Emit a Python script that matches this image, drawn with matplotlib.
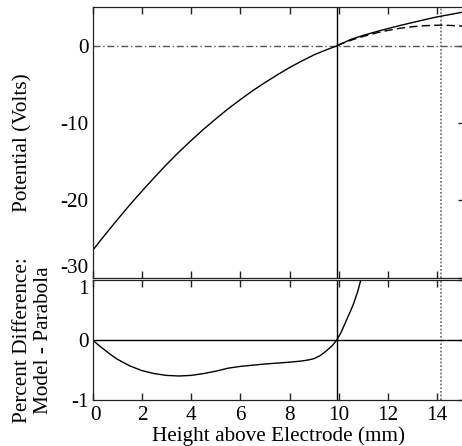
import matplotlib
matplotlib.use("Agg")
import matplotlib.pyplot as plt
from matplotlib.transforms import ScaledTranslation

plt.rcParams['font.family'] = ['Liberation Serif', 'DejaVu Serif']
plt.rcParams['axes.unicode_minus'] = False
plt.rcParams['font.size'] = 15.3

# Model potential (solid) vs height
model_x = [0, 0.5, 1, 1.5, 2, 2.5, 3, 3.5, 4, 4.5, 5, 5.5, 6, 6.5, 7, 7.5, 8, 8.5, 9, 9.5,
           9.92, 10.5, 11, 11.5, 12, 12.5, 13, 13.5, 14, 14.5, 15, 15.3]
model_v = [-26.45, -24.45, -22.5, -20.6, -18.8, -17.05, -15.35, -13.75, -12.25, -10.8, -9.45,
           -8.15, -6.95, -5.8, -4.75, -3.75, -2.8, -1.95, -1.15, -0.5,
           0.0, 0.85, 1.37, 1.82, 2.25, 2.65, 3.03, 3.4, 3.76, 4.05, 4.35, 4.5]

# Parabola fit (dashed)
para_x = [9.92, 10.5, 11, 11.5, 12, 12.5, 13, 13.5, 14, 14.15, 14.5, 15, 15.3]
para_v = [0.05, 0.74, 1.23, 1.66, 2.01, 2.29, 2.49, 2.62, 2.68, 2.68, 2.66, 2.57, 2.49]

# Percent difference (model - parabola)
diff_x = [0, 0.25, 0.5, 0.75, 1, 1.5, 2, 2.5, 3, 3.5, 4, 4.5, 5, 5.5, 6, 6.5, 7, 7.5, 8,
          8.5, 8.8, 9, 9.25, 9.5, 9.75, 9.92, 10.1, 10.25, 10.4, 10.5, 10.6, 10.75, 10.8,
          10.9, 11.0]
diff_v = [0, -0.09, -0.17, -0.25, -0.32, -0.43, -0.51, -0.56, -0.59, -0.6, -0.59, -0.56,
          -0.52, -0.47, -0.44, -0.42, -0.4, -0.385, -0.37, -0.35, -0.33, -0.31, -0.26,
          -0.18, -0.09, 0.0, 0.13, 0.27, 0.41, 0.5, 0.6, 0.78, 0.85, 1.0, 1.15]

x_ticks = [0, 2, 4, 6, 8, 10, 12, 14]
top_yticks = [-30, -20, -10, 0]
bot_yticks = [-1, 0, 1]
zero_cross = 9.92
vertex_x = 14.15

W, H = 462, 446
fig = plt.figure(figsize=(W / 100, H / 100), dpi=100)

left = 92.7 / W
width = 372.3 / W
ax1 = fig.add_axes([left, 1 - 277.7 / H, width, 270.4 / H])
ax2 = fig.add_axes([left, 1 - 400 / H, width, 120 / H])

xmax = (465 - 92.7) / 24.6

spine_col = '#222222'
for ax in (ax1, ax2):
    ax.set_xlim(0, xmax)
    for s in ax.spines.values():
        s.set_linewidth(0.9)
        s.set_color(spine_col)
    ax.set_xticks(x_ticks)
    ax.tick_params(axis='x', direction='in', top=True, bottom=True, length=5,
                   width=1.0, color=spine_col, pad=4)
    ax.tick_params(axis='y', direction='in', left=False, right=True, labelleft=True,
                   length=5, width=1.0, color=spine_col, pad=3)
    ax.axvline(zero_cross, color='black', lw=1.0)
    ax.axvline(vertex_x, color='#666666', lw=1.2, ls=(0, (1, 1.2)))

ax1.set_ylim(-30, 5)
ax1.set_yticks(top_yticks)
ax1.tick_params(axis='x', labelbottom=False)
ax1.axhline(0, color='#555555', lw=1.0, ls=(0, (5, 2, 1, 2)))
ax1.plot(model_x, model_v, color='black', lw=1.0)
ax1.plot(para_x, para_v, color='black', lw=1.0, ls=(0, (6, 3)))

ax2.set_ylim(-1, 1)
ax2.set_yticks(bot_yticks)
ax2.axhline(0, color='black', lw=1.0)
ax2.plot(diff_x, diff_v, color='black', lw=1.0)
ax2.set_xlabel('Height above Electrode (mm)', labelpad=1)

# nudge crowded tick labels
fig.canvas.draw()
ax1.get_yticklabels()[0].set_va('bottom')
ax2.get_yticklabels()[-1].set_va('top')
lbl0 = ax2.get_xticklabels()[0]
lbl0.set_transform(lbl0.get_transform() + ScaledTranslation(3 / 100, 0, fig.dpi_scale_trans))

fig.text(22.5 / W, 1 - 142.5 / H, 'Potential (Volts)', rotation=90,
         ha='center', va='center')
fig.text(22.5 / W, 1 - 340 / H, 'Percent Difference:', rotation=90,
         ha='center', va='center')
fig.text(43.5 / W, 1 - 340 / H, 'Model - Parabola', rotation=90,
         ha='center', va='center')

fig.savefig('out.png', dpi=100)
